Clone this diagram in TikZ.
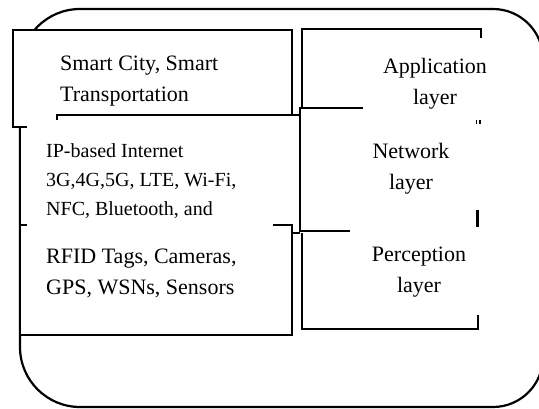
\documentclass[tikz,border=0pt]{standalone}
\usepackage{fontspec}
\setmainfont{Liberation Serif}
\usepackage{tikz}

\begin{document}
\begin{tikzpicture}[x=1pt,y=-1pt,
    frame/.style={line width=2.2pt},
    blank/.style={fill=white,draw=none},
    lbl/.style={inner sep=0pt,font=\fontsize{22}{31}\selectfont},
    small/.style={inner sep=0pt,font=\fontsize{20}{29}\selectfont}]

        \useasboundingbox(0,0)rectangle(539,408);
        %外枠 (角の丸みは左右で違う)
        \draw[frame](20,69)arc[start angle=180,end angle=270,radius=60]--(493,9)
            arc[start angle=270,end angle=360,radius=50]--(543,357)
            arc[start angle=0,end angle=90,radius=50]--(80,407)
            arc[start angle=90,end angle=180,radius=60]--cycle;

        %白で塗って外枠を隠す
        \fill[blank](13,30)rectangle(292,127);
        \fill[blank](20,115)rectangle(300,335);
        \fill[blank](300,29)rectangle(481,329);

        %左の箱
        \draw[frame](27,127)--(13,127)--(13,30)--(292,30)--(292,114);
        \draw[frame](57,120)--(57,115)--(300,115);
        \draw[frame](20,127)--(20,335)--(292,335)--(292,225)--(273,225);
        \draw[frame](20,225)--(27,225);
        \draw[frame](292,233)--(300,233);

        %右の箱
        \draw[frame](302,108)--(302,29)--(481,29)--(481,38);
        \draw[frame](363,108)--(300,108)--(300,231)--(350,231);
        \draw[frame](302,233)--(302,329)--(478,329)--(478,315);
        \draw[line width=1.4pt](476.5,120)--(476.5,124);
        \draw[line width=1.4pt](480,120)--(480,124);
        \draw[frame](477.5,210)--(477.5,227);

        %文字
        \node[lbl,anchor=west,align=left](smartcity)at(60,81){Smart City, Smart\\Transportation};
        \node[small,anchor=west,align=left](internet)at(46,181){IP-based Internet\\3G,4G,5G, LTE, Wi-Fi,\\NFC, Bluetooth, and};
        \node[lbl,anchor=west,align=left](sensing)at(46,273){RFID Tags, Cameras,\\GPS, WSNs, Sensors};
        \node[lbl,align=center](applayer)at(435,84){Application\\layer};
        \node[lbl,align=center](netlayer)at(411,169){Network\\layer};
        \node[lbl,align=center](perclayer)at(419,272){Perception\\layer};
    \end{tikzpicture}
\end{document}
